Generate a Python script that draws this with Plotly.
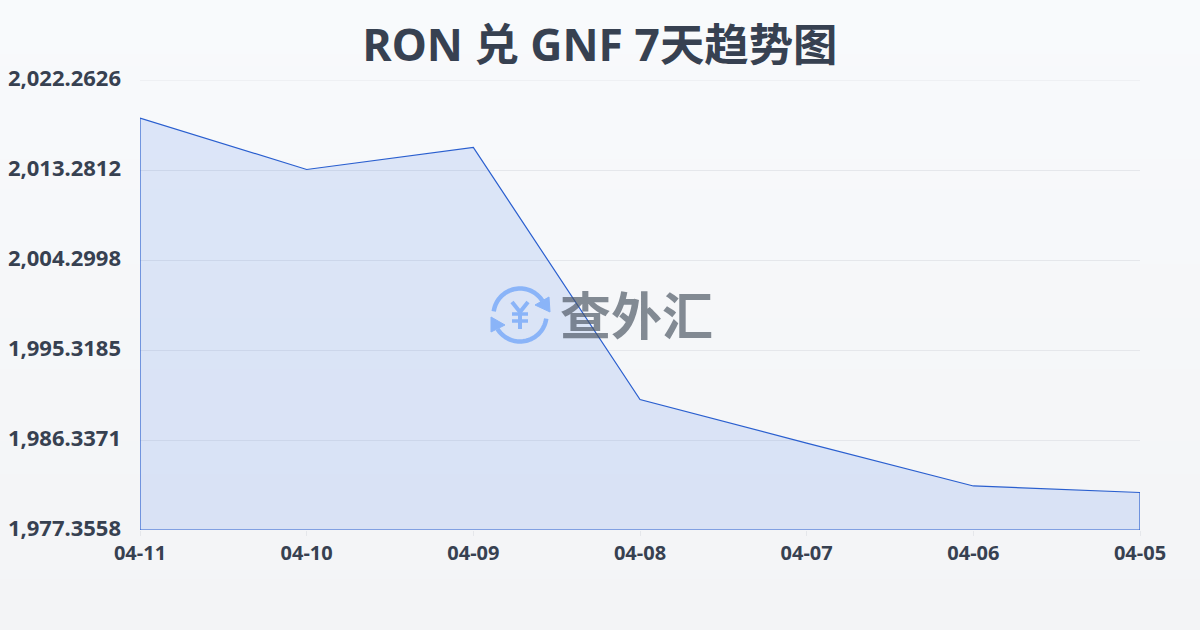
import numpy as np
import plotly.graph_objects as go

title_text = "RON 兑 GNF 7天趋势图"
dates = ["04-11", "04-10", "04-09", "04-08", "04-07", "04-06", "04-05"]
rates = [2018.47, 2013.33, 2015.53, 1990.38, 1986.03, 1981.75, 1981.10]
y_ticks = [2022.2626, 2013.2812, 2004.2998, 1995.3185, 1986.3371, 1977.3558]
y_bottom = y_ticks[-1]
y_top = y_ticks[0]

W, H = 1200, 630
L, R, T, B = 140, 1140, 80, 530
FONT = "'Noto Sans', 'Noto Sans CJK SC', sans-serif"
CJK = "'Noto Sans CJK SC', 'Noto Sans', sans-serif"
INK = "#374151"
BLUE = "#2a5fcf"
ICON = "#8ab4f8"
GRID = "#e5e7eb"


def px(x):
    return (x - L) / (R - L)


def py(y):
    return (B - y) / (B - T)


def path(points, close=False):
    s = "M" + " L".join(f"{px(a):.5f},{py(b):.5f}" for a, b in points)
    return s + (" Z" if close else "")


def arc(cx, cy, r, a0, a1):
    return [(cx + r * np.cos(np.radians(a)), cy - r * np.sin(np.radians(a)))
            for a in np.linspace(a0, a1, 40)]


shapes = []
# page background gradient
for i in range(0, H, 3):
    t = i / H
    c = (248 - 5 * t, 250 - 6 * t, 252 - 6 * t)
    shapes.append(dict(type="rect", xref="paper", yref="paper", layer="below",
                       x0=px(0), x1=px(W), y0=py(i), y1=py(min(i + 3, H)),
                       fillcolor=f"rgb({c[0]:.0f},{c[1]:.0f},{c[2]:.0f})",
                       line_width=0))
# top grid line, which the axis leaves out at the edge of its range
shapes.append(dict(type="line", xref="paper", yref="y", layer="between",
                   x0=0, x1=1, y0=y_top, y1=y_top, line=dict(color=GRID, width=1)))


def icon_line(points, width=4.5, close=False, fill=None):
    shapes.append(dict(type="path", xref="paper", yref="paper", layer="above",
                       path=path(points, close),
                       line=dict(color=ICON, width=width),
                       fillcolor=fill if fill else "rgba(0,0,0,0)"))


cx, cy = 520, 315
icon_line(arc(cx, cy, 26.5, 172, 32))
icon_line(arc(cx, cy, 26.5, 352, 212))
icon_line([(549, 297), (550, 312), (535, 305)], 1, True, ICON)
icon_line([(491, 317), (491, 332), (505, 325)], 1, True, ICON)
icon_line([(512, 302), (520, 312), (528, 302)], 4)
icon_line([(520, 312), (520, 329)], 4)
icon_line([(512, 314), (528, 314)], 3.5)
icon_line([(512, 321), (528, 321)], 3.5)

x_closed = dates + [dates[-1], dates[0], dates[0]]
y_closed = rates + [y_bottom, y_bottom, rates[0]]

fig = go.Figure(go.Scatter(
    x=x_closed, y=y_closed, mode="lines", fill="toself", cliponaxis=False,
    fillcolor="rgba(37,99,235,0.13)",
    line=dict(color=BLUE, width=1.2),
    hoverinfo="skip", showlegend=False,
))

fig.update_layout(
    width=W, height=H, autosize=False,
    margin=dict(l=L, r=W - R, t=T, b=H - B, pad=0, autoexpand=False),
    paper_bgcolor="rgba(0,0,0,0)", plot_bgcolor="rgba(0,0,0,0)",
    font=dict(family=FONT, color=INK),
    title=dict(text=title_text, x=0.5, xanchor="center", xref="container",
               y=1 - 45 / H, yanchor="middle", yref="container",
               font=dict(size=44.4, color=INK, family=FONT, weight=700)),
    shapes=shapes,
    annotations=[dict(
        text="查外汇", xref="paper", yref="paper", x=px(636.5), y=py(313),
        xanchor="center", yanchor="middle", showarrow=False,
        font=dict(size=51, family=CJK, color="rgba(75,85,99,0.68)", weight=700),
    )],
    xaxis=dict(
        type="category", categoryorder="array", categoryarray=dates,
        range=[0, len(dates) - 1], showgrid=False, zeroline=False, showline=False,
        ticks="outside", ticklen=5, tickwidth=1, tickcolor=GRID, automargin=False,
        tickfont=dict(size=20, color=INK, family=FONT, weight=700),
    ),
    yaxis=dict(
        range=[y_bottom, y_top], tickvals=y_ticks, tickformat=",.4f",
        showgrid=True, gridcolor=GRID, gridwidth=1, zeroline=False,
        showline=False, ticks="", ticklabelstandoff=18, ticklabelshift=-2, automargin=False,
        tickfont=dict(size=22, color=INK, family=FONT, weight=700),
    ),
)

fig.write_html("out.html", config=dict(displayModeBar=False),
               post_script="document.body.style.margin='0';")
